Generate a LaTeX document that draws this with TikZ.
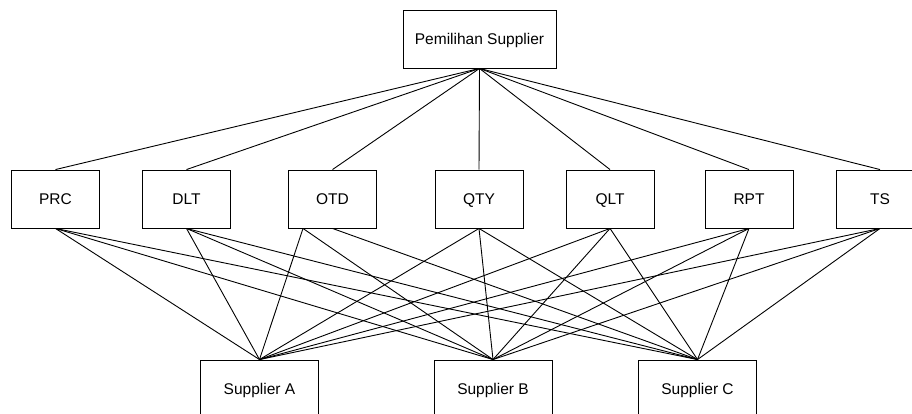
\documentclass[tikz,border=0pt]{standalone}
\usepackage{fontspec}
\setmainfont{Liberation Sans}
\begin{document}
\begin{tikzpicture}[x=1pt,y=-1pt,
  box/.style={draw, line width=0.9pt, inner sep=0pt, minimum height=58pt,
              text height=11pt, text depth=0pt,
              font=\fontsize{15.5}{18}\selectfont},
  goalbox/.style={box, minimum width=153pt},
  critbox/.style={box, minimum width=88pt},
  altbox/.style={box, minimum width=118pt},
  link/.style={line width=0.9pt}]
\useasboundingbox (0,0) rectangle (912,414);
\clip (0,0) rectangle (912,414);
\fill[white] (0,0) rectangle (912,414);

% goal
\node[goalbox] (goal) at (479.5,39) {Pemilihan Supplier};

% criteria
\node[critbox] (prc) at (55.5,199) {PRC};
\node[critbox] (dlt) at (186.5,199) {DLT};
\node[critbox] (otd) at (332.5,199) {OTD};
\node[critbox] (qty) at (479,199) {QTY};
\node[critbox] (qlt) at (610,199) {QLT};
\node[critbox] (rpt) at (749,199) {RPT};
\node[critbox] (ts)  at (880,199) {TS};

% alternatives
\node[altbox] (sa) at (259.5,389) {Supplier A};
\node[altbox] (sb) at (493,389) {Supplier B};
\node[altbox] (sc) at (697.5,389) {Supplier C};

% goal to criteria
\foreach \c in {prc,dlt,otd,qty,qlt,rpt,ts}
  \draw[link] (goal.south) -- (\c.north);

% criteria to alternatives
\foreach \c in {prc,dlt,qty,qlt,rpt,ts}
  \foreach \a in {sa,sb,sc}
    \draw[link] (\c.south) -- (\a.north);
\coordinate (otdl) at ([xshift=-29.5pt]otd.south);
\draw[link] (otdl) -- (sa.north);
\draw[link] (otdl) -- (sb.north);
\draw[link] (otd.south) -- (sc.north);
\end{tikzpicture}
\end{document}
